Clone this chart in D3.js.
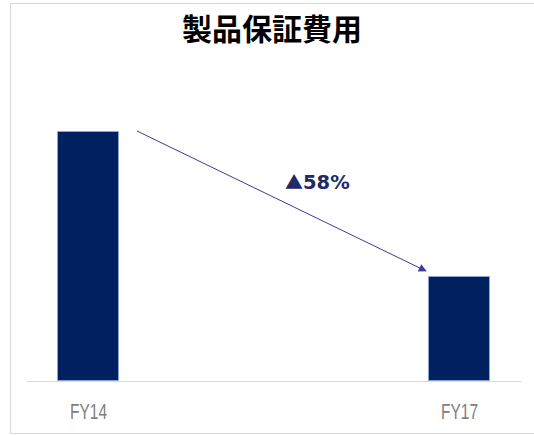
<!DOCTYPE html>
<html>
<head>
<meta charset="utf-8">
<script src="https://cdn.jsdelivr.net/npm/d3@7"></script>
<style>
  body { margin: 0; background: #fff; }
  svg { display: block; }
</style>
</head>
<body>
<svg id="chart" width="534" height="435"></svg>
<script>
const title = "製品保証費用";
const categories = ["FY14", "FY17"];
const values = [100, 42];
const changeMark = "▲";
const changeLabel = "58%";

const svg = d3.select("#chart");

// outer frame (cut off on the right)
svg.append("rect")
  .attr("x", 10.5).attr("y", 3.5)
  .attr("width", 540).attr("height", 430)
  .attr("fill", "none").attr("stroke", "#d9d9d9");

svg.append("text")
  .attr("x", 272).attr("y", 40)
  .attr("text-anchor", "middle")
  .attr("font-family", "'Noto Sans CJK JP', sans-serif")
  .attr("font-weight", "bold")
  .attr("font-size", 30)
  .attr("fill", "#000")
  .text(title);

const x = d3.scalePoint().domain(categories).range([88, 459]);
const y = d3.scaleLinear().domain([0, 100]).range([381, 131]);
const barW = 62;

svg.append("line")
  .attr("x1", 27).attr("x2", 521)
  .attr("y1", 381.5).attr("y2", 381.5)
  .attr("stroke", "#d9d9d9");

svg.selectAll("rect.bar")
  .data(values)
  .enter()
  .append("rect")
  .attr("class", "bar")
  .attr("x", (d, i) => x(categories[i]) - barW / 2 + 0.5)
  .attr("y", d => y(d) + 0.5)
  .attr("width", barW - 1)
  .attr("height", d => y(0) - y(d) - 1)
  .attr("fill", "#002060")
  .attr("stroke", "#8eaadb")
  .attr("stroke-width", 0.8);

svg.selectAll("text.cat")
  .data(categories)
  .enter()
  .append("text")
  .attr("class", "cat")
  .attr("x", d => x(d) - 18)
  .attr("y", 419)
  .attr("textLength", 37)
  .attr("lengthAdjust", "spacingAndGlyphs")
  .attr("font-family", "'Liberation Sans Narrow', 'Liberation Sans', sans-serif")
  .attr("font-size", 22)
  .attr("fill", "#808080")
  .text(d => d);

// arrow from FY14 top to FY17 top
svg.append("defs").append("marker")
  .attr("id", "head")
  .attr("viewBox", "0 0 10 10")
  .attr("refX", 9).attr("refY", 5)
  .attr("markerWidth", 10).attr("markerHeight", 8)
  .attr("markerUnits", "userSpaceOnUse")
  .attr("orient", "auto")
  .append("path")
  .attr("d", "M0,0L10,5L0,10z")
  .attr("fill", "#3f3a9e");

svg.append("line")
  .attr("x1", x(categories[0]) + 49).attr("y1", y(values[0]))
  .attr("x2", x(categories[1]) - 33).attr("y2", y(values[1]) - 5)
  .attr("stroke", "#3f3a9e")
  .attr("stroke-width", 1)
  .attr("marker-end", "url(#head)");

const pct = svg.append("text")
  .attr("x", 285).attr("y", 189)
  .attr("font-weight", "bold")
  .attr("fill", "#1f2a66");
pct.append("tspan")
  .attr("font-family", "'Noto Sans CJK JP', sans-serif")
  .attr("font-size", 18)
  .text(changeMark);
pct.append("tspan")
  .attr("font-family", "Verdana, 'DejaVu Sans', sans-serif")
  .attr("font-size", 19.5)
  .text(changeLabel);
</script>
</body>
</html>
